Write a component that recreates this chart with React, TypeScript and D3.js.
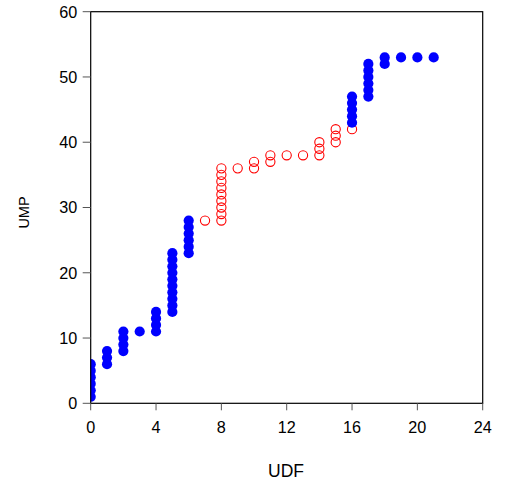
import React from "react";
import * as d3 from "d3";

// UDF / UMP pairs, grouped by series
const blueX = [0, 0, 0, 0, 0, 0, 1, 1, 1, 2, 2, 2, 2, 3, 4, 4, 4, 4, 5, 5, 5, 5, 5, 5, 5, 5, 5, 5, 6, 6, 6, 6, 6, 6, 16, 16, 16, 16, 16, 17, 17, 17, 17, 17, 17, 18, 18, 19, 20, 21];
const blueY = [1, 2, 3, 4, 5, 6, 6, 7, 8, 8, 9, 10, 11, 11, 11, 12, 13, 14, 14, 15, 16, 17, 18, 19, 20, 21, 22, 23, 23, 24, 25, 26, 27, 28, 43, 44, 45, 46, 47, 47, 48, 49, 50, 51, 52, 52, 53, 53, 53, 53];
const redX = [7, 8, 8, 8, 8, 8, 8, 8, 8, 8, 9, 10, 10, 11, 11, 12, 13, 14, 14, 14, 15, 15, 15, 16];
const redY = [28, 28, 29, 30, 31, 32, 33, 34, 35, 36, 36, 36, 37, 37, 38, 38, 38, 38, 39, 40, 40, 41, 42, 42];

const xTicks = [0, 4, 8, 12, 16, 20, 24];
const yTicks = [0, 10, 20, 30, 40, 50, 60];

const W = 516;
const H = 485;
const left = 90.7;
const right = 482.7;
const top = 11.7;
const bottom = 403.3;

export default function App() {
  const x = d3.scaleLinear().domain([0, 24]).range([left, right]);
  const y = d3.scaleLinear().domain([0, 60]).range([bottom, top]);
  const font = "'Liberation Sans', Arial, Helvetica, sans-serif";

  return (
    <svg
      width={W}
      height={H}
      style={{ position: "absolute", left: 0, top: 0 }}
      fontFamily={font}
    >
      <rect x={0} y={0} width={W} height={H} fill="white" />
      <defs>
        <clipPath id="plotClip">
          <rect x={left} y={top} width={right - left} height={bottom - top} />
        </clipPath>
      </defs>

      <g clipPath="url(#plotClip)">
        {redX.map((v, i) => (
          <circle
            key={"r" + i}
            cx={x(v)}
            cy={y(redY[i])}
            r={4.6}
            fill="none"
            stroke="#ff0000"
            strokeWidth={1.1}
          />
        ))}
        {blueX.map((v, i) => (
          <circle
            key={"b" + i}
            cx={x(v)}
            cy={y(blueY[i])}
            r={5.1}
            fill="#0000ff"
          />
        ))}
      </g>

      <rect
        x={left}
        y={top}
        width={right - left}
        height={bottom - top}
        fill="none"
        stroke="black"
        strokeWidth={1.2}
      />

      {xTicks.map((t) => (
        <g key={"x" + t}>
          <line x1={x(t)} x2={x(t)} y1={bottom} y2={bottom + 7} stroke="#555" strokeWidth={1} />
          <text x={x(t)} y={433.3} textAnchor="middle" fontSize={16.2} fill="black">
            {t}
          </text>
        </g>
      ))}
      {yTicks.map((t) => (
        <g key={"y" + t}>
          <line x1={left - 8} x2={left} y1={y(t)} y2={y(t)} stroke="#555" strokeWidth={1} />
          <text x={77.3} y={y(t) + 5.8} textAnchor="end" fontSize={16.2} fill="black">
            {t}
          </text>
        </g>
      ))}

      <text x={286} y={476.7} textAnchor="middle" fontSize={17.5} fill="black">
        UDF
      </text>
      <text
        transform={`translate(28.5, 212.5) rotate(-90)`}
        textAnchor="middle"
        fontSize={14.5}
        fill="black"
      >
        UMP
      </text>
    </svg>
  );
}
